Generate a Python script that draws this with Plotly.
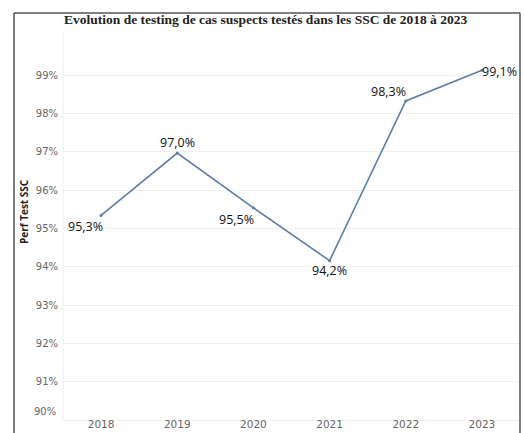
import plotly.graph_objects as go

years = ["2018", "2019", "2020", "2021", "2022", "2023"]
values = [95.34, 96.97, 95.54, 94.16, 98.33, 99.13]
labels = ["95,3%", "97,0%", "95,5%", "94,2%", "98,3%", "99,1%"]
ytick_vals = [91, 92, 93, 94, 95, 96, 97, 98, 99]
ytick_text = ["91%", "92%", "93%", "94%", "95%", "96%", "97%", "98%", "99%"]

# label offsets in pixels (dx, dy with dy positive = down)
label_offsets = [(-16, 11), (0, -11), (-17, 11.5), (0, 10), (-17, -9), (18, 1)]

W, H = 524, 433
L, R, T, B = 63, 4, 45, 13
pw, ph = W - L - R, H - T - B

def px(xp):
    return (xp - L) / pw

def py(yp):
    return (H - B - yp) / ph

fig = go.Figure()
fig.add_trace(go.Scatter(
    x=years, y=values, mode="lines+markers",
    line=dict(color="#5a7fa8", width=1.6),
    marker=dict(size=3, color="#5a7fa8"),
    cliponaxis=False, hoverinfo="skip"
))

line_col = "#555555"
shapes = [
    dict(type="line", xref="paper", yref="paper", x0=px(14), x1=px(520), y0=py(13), y1=py(13), line=dict(color=line_col, width=1.5)),
    dict(type="line", xref="paper", yref="paper", x0=px(14), x1=px(14), y0=py(13), y1=py(433), line=dict(color=line_col, width=1.5)),
    dict(type="line", xref="paper", yref="paper", x0=px(520), x1=px(520), y0=py(13), y1=py(433), line=dict(color=line_col, width=1.5)),
    dict(type="line", xref="paper", yref="paper", x0=0, x1=0, y0=0, y1=py(33), line=dict(color="#eeeeee", width=1)),
]

annotations = [
    dict(text="<b>Evolution de testing de cas suspects testés dans les SSC de 2018 à 2023</b>",
         xref="paper", yref="paper", x=px(62), y=py(19), xanchor="left", yanchor="middle",
         showarrow=False, font=dict(family="Liberation Serif", size=13.5, color="#222")),
    dict(text="<b>Perf Test SSC</b>", xref="paper", yref="paper", x=px(24), y=py(212),
         xanchor="center", yanchor="middle", textangle=-90, showarrow=False,
         font=dict(family="Open Sans", size=10, color="#222")),
    dict(text="90%", xref="paper", yref="paper", x=px(58), y=py(411), xanchor="right", yanchor="middle",
         showarrow=False, font=dict(family="DejaVu Sans", size=10, color="#666")),
]

for i, (v, lab, (dx, dy)) in enumerate(zip(values, labels, label_offsets)):
    annotations.append(dict(
        text=lab, x=i, y=v, xref="x", yref="y", xanchor="center", yanchor="middle",
        xshift=dx, yshift=-dy, showarrow=False,
        font=dict(family="Open Sans", size=12.5, color="#111")))

fig.update_layout(
    width=W, height=H, margin=dict(l=L, r=R, t=T, b=B),
    paper_bgcolor="white", plot_bgcolor="white",
    showlegend=False, shapes=shapes, annotations=annotations,
    xaxis=dict(type="category", range=[-0.5, 5.5], showgrid=False, zeroline=False,
               showline=True, linecolor="#eeeeee", ticks="", ticklabelstandoff=-6,
               automargin=False,
               tickfont=dict(family="DejaVu Sans", size=10.5, color="#666")),
    yaxis=dict(range=[90, 99.79], tickvals=ytick_vals, ticktext=ytick_text,
               showgrid=True, gridcolor="#f0f0f0", zeroline=False, showline=False,
               ticks="", ticklabelstandoff=4, automargin=False,
               tickfont=dict(family="DejaVu Sans", size=10, color="#666")),
)

fig.write_html("out.html")
